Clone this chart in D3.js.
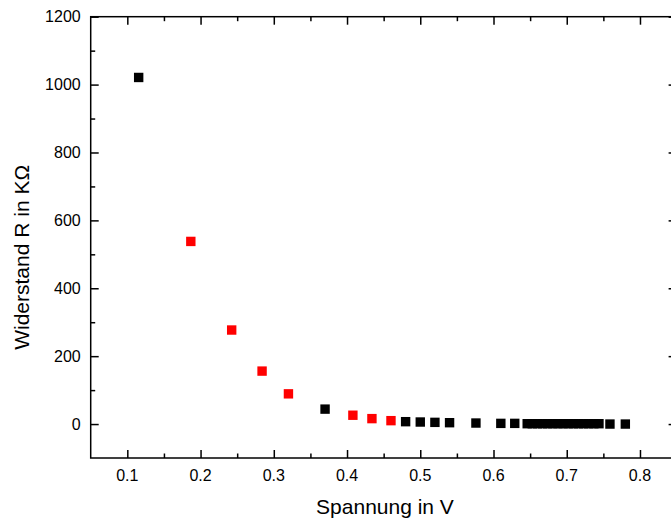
<!DOCTYPE html>
<html>
<head>
<meta charset="utf-8">
<script src="https://cdn.jsdelivr.net/npm/d3@7/dist/d3.min.js"></script>
<style>
  body { margin: 0; background: #fff; }
  svg { display: block; font-family: "Liberation Sans", Arial, sans-serif; }
</style>
</head>
<body>
<div id="chart"></div>
<script>
// Black measurement points (voltage in V, resistance in kOhm)
const blackU = [0.1155, 0.370, 0.480, 0.500, 0.520, 0.540, 0.576, 0.610, 0.629,
    0.646, 0.653, 0.660, 0.667, 0.674, 0.681, 0.688, 0.695, 0.702, 0.709, 0.716,
    0.723, 0.730, 0.737, 0.744, 0.759, 0.780];
const blackR = [1021, 44, 7, 6, 5, 4, 3, 2, 2,
    1, 1, 1, 1, 1, 1, 1, 1, 1, 1, 1,
    1, 1, 1, 1, 0, 0];
// Red points
const redU = [0.1867, 0.2425, 0.284, 0.320, 0.408, 0.434, 0.460];
const redR = [538, 277, 156, 89, 26, 16, 10];

const xTicks = [0.1, 0.2, 0.3, 0.4, 0.5, 0.6, 0.7, 0.8];
const xMinor = [0.15, 0.25, 0.35, 0.45, 0.55, 0.65, 0.75];
const yTicks = [0, 200, 400, 600, 800, 1000, 1200];
const yMinor = [100, 300, 500, 700, 900, 1100];

const width = 671, height = 520;
const mLeft = 90.7, mRight = 676.6, mTop = 16.7, mBottom = 458;

const x = d3.scaleLinear().domain([0.05, 0.85]).range([mLeft, mRight]);
const y = d3.scaleLinear().domain([-100, 1200]).range([mBottom, mTop]);

const svg = d3.select("#chart").append("svg")
    .attr("width", width)
    .attr("height", height);

// frame ticks (inward on all four sides)
const major = 8, minor = 4.5;
function tickGroup(axisFn, scale, vals, len, tr) {
    svg.append("g")
        .attr("transform", tr)
        .call(axisFn(scale).tickValues(vals).tickSize(len).tickFormat(""))
        .call(g => g.select(".domain").remove())
        .selectAll("line").attr("stroke", "#000").attr("stroke-width", 1.5);
}
tickGroup(d3.axisTop, x, xTicks, major, `translate(0,${mBottom})`);
tickGroup(d3.axisTop, x, xMinor, minor, `translate(0,${mBottom})`);
tickGroup(d3.axisBottom, x, xTicks, major, `translate(0,${mTop})`);
tickGroup(d3.axisBottom, x, xMinor, minor, `translate(0,${mTop})`);
tickGroup(d3.axisRight, y, yTicks, major, `translate(${mLeft},0)`);
tickGroup(d3.axisRight, y, yMinor, minor, `translate(${mLeft},0)`);
tickGroup(d3.axisLeft, y, yTicks, major, `translate(${mRight},0)`);
tickGroup(d3.axisLeft, y, yMinor, minor, `translate(${mRight},0)`);

svg.append("rect")
    .attr("x", mLeft).attr("y", mTop)
    .attr("width", mRight - mLeft).attr("height", mBottom - mTop)
    .attr("fill", "none").attr("stroke", "#000").attr("stroke-width", 1.5);

// tick labels
svg.selectAll(".xl").data(xTicks).enter().append("text")
    .attr("x", d => x(d))
    .attr("y", mBottom + 23)
    .attr("text-anchor", "middle")
    .style("font-size", "16px")
    .text(d => d.toFixed(1));

svg.selectAll(".yl").data(yTicks).enter().append("text")
    .attr("x", mLeft - 10)
    .attr("y", d => y(d) + 5.5)
    .attr("text-anchor", "end")
    .style("font-size", "16px")
    .text(d => d);

// axis titles
svg.append("text")
    .attr("x", 385)
    .attr("y", 514)
    .attr("text-anchor", "middle")
    .style("font-size", "21px")
    .text("Spannung in V");

svg.append("text")
    .attr("transform", `translate(29,${(mTop + mBottom) / 2 + 20}) rotate(-90)`)
    .attr("text-anchor", "middle")
    .style("font-size", "21px")
    .text("Widerstand R in KΩ");

// markers
const s = 9.4;
svg.selectAll(".pb").data(blackU).enter().append("rect")
    .attr("x", (d) => x(d) - s / 2)
    .attr("y", (d, i) => y(blackR[i]) - s / 2)
    .attr("width", s).attr("height", s)
    .attr("fill", "#000");

svg.selectAll(".pr").data(redU).enter().append("rect")
    .attr("x", (d) => x(d) - s / 2)
    .attr("y", (d, i) => y(redR[i]) - s / 2)
    .attr("width", s).attr("height", s)
    .attr("fill", "#ff0000");
</script>
</body>
</html>
